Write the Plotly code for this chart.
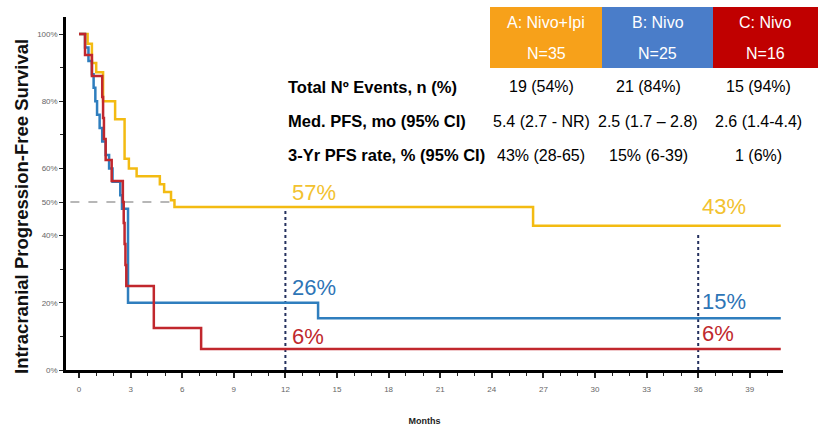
import plotly.graph_objects as go

# Kaplan-Meier step data (months, % progression-free)
months_a = [0, 0.5, 0.75, 1.0, 1.4, 2.1, 2.65, 2.9, 3.35, 4.7, 4.95, 5.35, 5.55, 26.4, 40.8]
surv_a = [100, 97.1, 91.4, 88.6, 80.0, 74.6, 62.9, 60.0, 57.7, 55.3, 53.0, 50.5, 48.5, 42.9, 42.9]

months_b = [0, 0.35, 0.55, 0.75, 0.85, 0.95, 1.05, 1.2, 1.35, 1.55, 1.75, 1.95, 2.4, 2.5, 2.85, 13.9, 40.8]
surv_b = [100, 96, 92, 88, 84, 80, 76, 72, 68, 64, 60, 56, 52, 48, 20, 15.4, 15.4]

months_c = [0, 0.35, 0.75, 1.35, 1.4, 1.45, 1.55, 1.9, 2.55, 2.6, 2.65, 2.7, 2.75, 4.35, 7.1, 40.8]
surv_c = [100, 93.75, 87.5, 81.25, 75, 68.75, 62.5, 56.25, 50, 43.75, 37.5, 31.25, 25, 12.5, 6.25, 6.25]

arm_names = ["A: Nivo+Ipi", "B: Nivo", "C: Nivo"]
arm_n = ["N=35", "N=25", "N=16"]
row_labels = ["Total Nº Events, n (%)", "Med. PFS, mo (95% CI)", "3-Yr PFS rate, % (95% CI)"]
row_values = [
    ["19 (54%)", "21 (84%)", "15 (94%)"],
    ["5.4 (2.7 - NR)", "2.5 (1.7 – 2.8)", "2.6 (1.4-4.4)"],
    ["43% (28-65)", "15% (6-39)", "1 (6%)"],
]

# landmark percentages drawn beside the 12- and 36-month verticals
landmarks_12 = ["57%", "26%", "6%"]
landmarks_36 = ["43%", "15%", "6%"]
median_line_end = 5.5
dotted_12_top = 48.5
dotted_36_top = 41.0

x_ticks = list(range(0, 40, 3))
y_ticks = [0, 20, 40, 50, 60, 80, 100]
y_tick_text = ["0%", "20%", "40%", "50%", "60%", "80%", "100%"]

curve_colors = ["#F3BB12", "#2F7EBE", "#C1272D"]
header_colors = ["#F7A11A", "#4A7DC9", "#C00000"]
label_colors = ["#F2C230", "#2E75B6", "#C0282E"]

# plot-area geometry in pixels
L, R, T, B = 66, 783, 17, 370
W, H = 827, 426


def px_x(px):
    return (px - L) / (R - L)


def px_y(py):
    return (B - py) / (B - T)


fig = go.Figure()

# 50% reference line and landmark verticals
fig.add_trace(go.Scatter(x=[-0.5, median_line_end], y=[50, 50], mode="lines",
                         line=dict(color="#A0A0A0", width=1.5, dash="dash"),
                         hoverinfo="skip", showlegend=False))
for xm, top in [(12, dotted_12_top), (36, dotted_36_top)]:
    fig.add_trace(go.Scatter(x=[xm, xm], y=[0, top], mode="lines",
                             line=dict(color="#24305E", width=2, dash="dot"),
                             hoverinfo="skip", showlegend=False))

for mx, sy, col, name in [(months_a, surv_a, curve_colors[0], arm_names[0]),
                          (months_b, surv_b, curve_colors[1], arm_names[1]),
                          (months_c, surv_c, curve_colors[2], arm_names[2])]:
    fig.add_trace(go.Scatter(x=mx, y=sy, mode="lines", name=name,
                             line=dict(color=col, width=2.5, shape="hv"),
                             showlegend=False))

sans = "Liberation Sans, Arial, sans-serif"

annotations = []
shapes = []

# header boxes of the summary table
box_edges = [490, 602, 713, 818]
for i in range(3):
    x0, x1 = box_edges[i], box_edges[i + 1]
    cx = (x0 + x1) / 2
    shapes.append(dict(type="rect", xref="paper", yref="paper",
                       x0=px_x(x0), x1=px_x(x1), y0=px_y(68), y1=px_y(7),
                       fillcolor=header_colors[i], line=dict(width=0), layer="below"))
    annotations.append(dict(xref="paper", yref="paper", x=px_x(cx), y=px_y(22),
                            text=arm_names[i], showarrow=False, xanchor="center", yanchor="middle",
                            font=dict(family=sans, size=16, color="white")))
    annotations.append(dict(xref="paper", yref="paper", x=px_x(cx), y=px_y(53),
                            text=arm_n[i], showarrow=False, xanchor="center", yanchor="middle",
                            font=dict(family=sans, size=16, color="white")))

row_y = [87, 121, 155]
value_centers = [541, 648, 758]
for r, label in enumerate(row_labels):
    annotations.append(dict(xref="paper", yref="paper", x=px_x(286), y=px_y(row_y[r]),
                            text="<b>" + label + "</b>", showarrow=False,
                            xanchor="left", yanchor="middle",
                            font=dict(family=sans, size=16.5, color="black")))
    for c in range(3):
        annotations.append(dict(xref="paper", yref="paper", x=px_x(value_centers[c]), y=px_y(row_y[r]),
                                text=row_values[r][c], showarrow=False,
                                xanchor="center", yanchor="middle",
                                font=dict(family=sans, size=16, color="black")))

pos_12 = [192, 287, 336]
pos_36 = [207, 301, 333]
for i in range(3):
    annotations.append(dict(xref="paper", yref="paper", x=px_x(290), y=px_y(pos_12[i]),
                            text=landmarks_12[i], showarrow=False, xanchor="left", yanchor="middle",
                            font=dict(family=sans, size=22, color=label_colors[i])))
    annotations.append(dict(xref="paper", yref="paper", x=px_x(700), y=px_y(pos_36[i]),
                            text=landmarks_36[i], showarrow=False, xanchor="left", yanchor="middle",
                            font=dict(family=sans, size=22, color=label_colors[i])))

# y-axis title
annotations.append(dict(xref="paper", yref="paper", x=px_x(22), y=px_y(207),
                        text="<b>Intracranial Progression-Free Survival</b>", showarrow=False,
                        textangle=-90, xanchor="center", yanchor="middle",
                        font=dict(family=sans, size=18.5, color="#111111")))

fig.update_layout(
    width=W, height=H,
    margin=dict(l=L, r=W - R, t=T, b=H - B, autoexpand=False),
    plot_bgcolor="white", paper_bgcolor="white",
    annotations=annotations, shapes=shapes,
    xaxis=dict(range=[-0.756, 40.93], tickvals=x_ticks, ticks="outside", ticklen=5, tickwidth=1.5,
               tickcolor="#222", showline=True, linecolor="black", linewidth=2.5,
               showgrid=False, zeroline=False, ticklabelstandoff=5, automargin=False,
               tickfont=dict(family=sans, size=8, color="#666"),
               minor=dict(dtick=1, ticks="outside", ticklen=3, tickcolor="#222", tickwidth=1),
               title=dict(text="<b>Months</b>", font=dict(family=sans, size=9, color="#222"), standoff=28)),
    yaxis=dict(range=[0, 105.06], tickvals=y_ticks, ticktext=y_tick_text, ticks="outside", ticklen=4,
               tickcolor="#222", showline=True, linecolor="black", linewidth=2.5,
               showgrid=False, zeroline=False, automargin=False,
               tickfont=dict(family=sans, size=8, color="#666"),
               minor=dict(tickvals=[10, 30, 70, 90], ticks="outside", ticklen=3, tickcolor="#222")),
)

fig.write_html("out.html")
